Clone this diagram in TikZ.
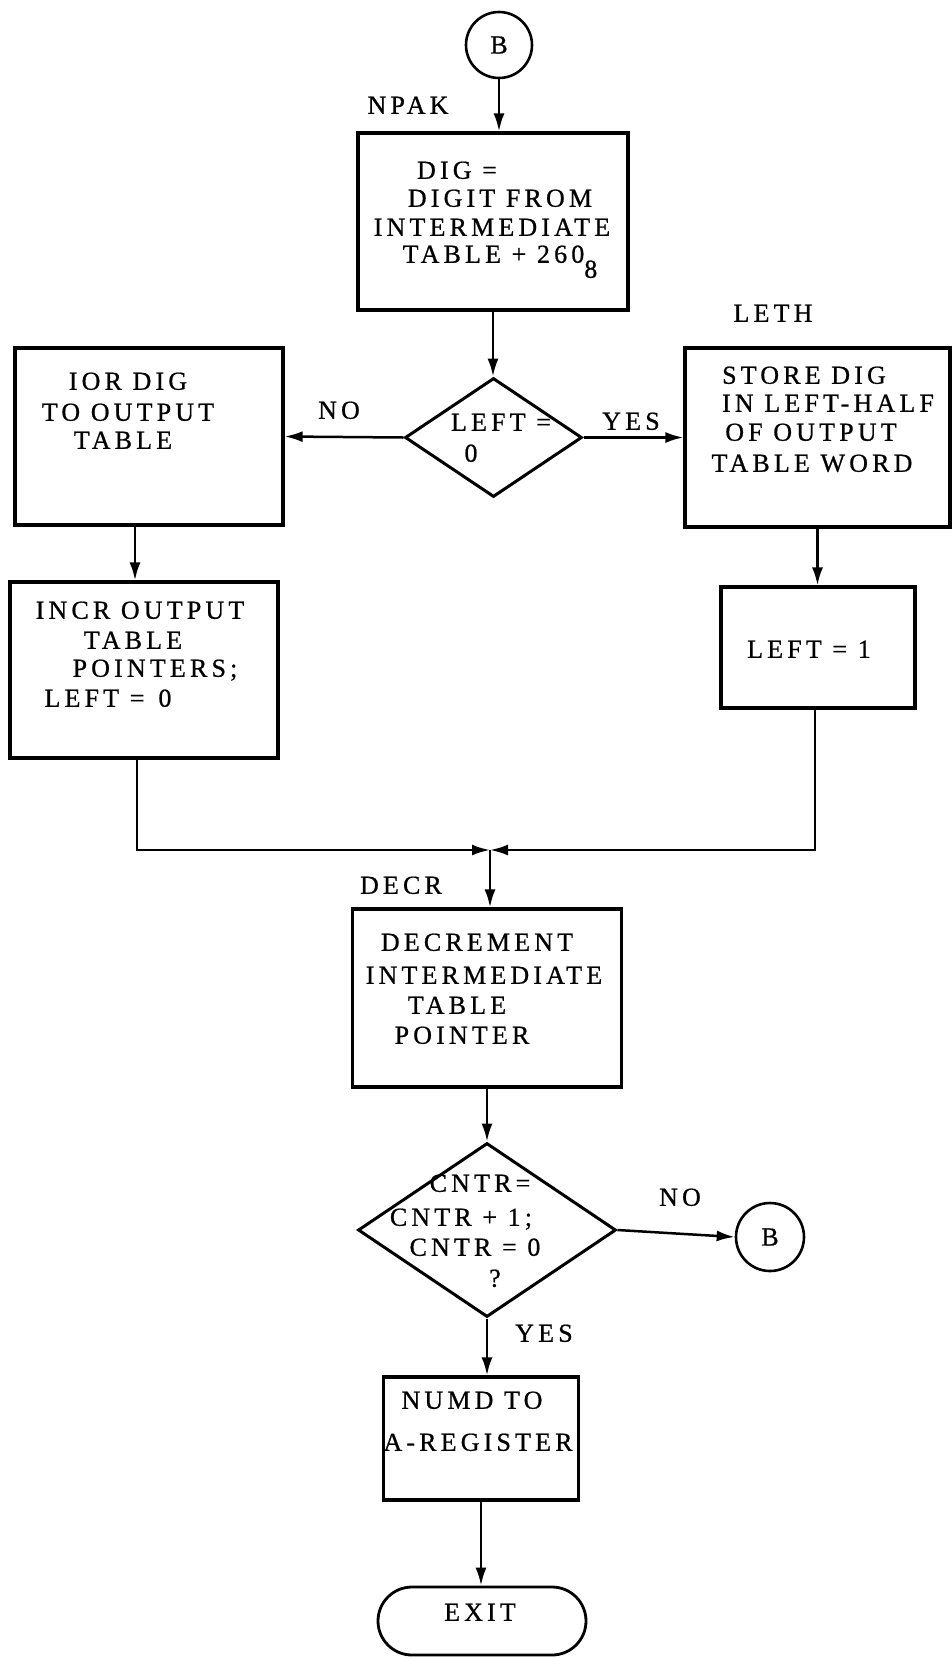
\documentclass[tikz,border=0pt]{standalone}
\usepackage{fontspec}
\setmainfont{Liberation Serif}[LetterSpace=16,FakeBold=0.7]
\usetikzlibrary{arrows.meta,shapes.geometric}
\begin{document}
\begin{tikzpicture}[x=1pt,y=-1pt]
\tikzset{
  box/.style={draw, rectangle, line width=3.2pt, inner sep=0pt},
  dia/.style={draw, diamond, line width=3pt, inner sep=0pt, aspect=1},
  term/.style={draw, rectangle, rounded corners=34pt, line width=2.8pt, inner sep=0pt},
  circ/.style={draw, circle, line width=2.6pt, inner sep=0pt, font=\fontsize{26}{30}\selectfont},
  conn/.style={line width=2.5pt, -{Latex[length=18pt,width=11pt]}},
  txt/.style={inner sep=0pt, text height=17.5pt, text depth=0pt, font=\fontsize{26}{30}\selectfont},
}
\useasboundingbox (0,0) rectangle (952,1658);

% shapes
\node[circ, minimum size=66pt] (b1) at (499,45) {B};
\node[box, minimum width=270pt, minimum height=177pt] (box1) at (493,221.5) {};
\node[dia, minimum width=177pt, minimum height=119pt] (d1) at (493.5,437.5) {};
\node[box, minimum width=268pt, minimum height=177pt] (ior) at (149,436.5) {};
\node[box, minimum width=265pt, minimum height=179pt] (store) at (817.5,437.5) {};
\node[box, minimum width=268pt, minimum height=176pt] (incr) at (144,670) {};
\node[box, minimum width=194pt, minimum height=121pt] (left1) at (818,647.5) {};
\node[box, minimum width=269pt, minimum height=178pt] (decr) at (487,998) {};
\node[dia, minimum width=258pt, minimum height=174pt] (d2) at (487,1230) {};
\node[circ, minimum size=68pt] (b2) at (770,1237) {B};
\node[box, minimum width=195pt, minimum height=123pt] (numd) at (481,1438.5) {};
\node[term, minimum width=208pt, minimum height=68pt] (exit) at (482,1621) {};
\coordinate (j) at (490,850);

% labels
\node[txt] (lnpak) at (408,105) {NPAK};
\node[txt] (lleth) at (773,313) {LETH};
\node[txt] (ldecr) at (401,885) {DECR};
\node[txt] (lno1) at (339,410) {NO};
\node[txt] (lyes1) at (631,421) {YES};
\node[txt] (lno2) at (680,1197) {NO};
\node[txt] (lyes2) at (544,1333) {YES};

% box texts
\node[txt] (t1a) at (457,170) {DIG =};
\node[txt] (t1b) at (500,198) {DIGIT FROM};
\node[txt] (t1c) at (492,227) {INTERMEDIATE};
\node[txt] (t1d) at (500,254) {TABLE + 260\raisebox{-15pt}{8}};

\node[txt] (td1a) at (501,422) {LEFT =};
\node[txt] (td1b) at (471,453) {0};

\node[txt] (t2a) at (128,381) {IOR DIG};
\node[txt] (t2b) at (128,412) {TO OUTPUT};
\node[txt] (t2c) at (123,440) {TABLE};

\node[txt] (t3a) at (804,375) {STORE DIG};
\node[txt] (t3b) at (828,403) {IN LEFT-HALF};
\node[txt] (t3c) at (811,432) {OF OUTPUT};
\node[txt] (t3d) at (812,463) {TABLE WORD};

\node[txt] (t4a) at (140,610) {INCR OUTPUT};
\node[txt] (t4b) at (133,640) {TABLE};
\node[txt] (t4c) at (155,668) {POINTERS;};
\node[txt] (t4d) at (108,698) {LEFT =\hspace{14pt}0};

\node[txt] (t5) at (809,649) {LEFT = 1};

\node[txt] (t6a) at (477,942) {DECREMENT};
\node[txt] (t6b) at (484,975) {INTERMEDIATE};
\node[txt] (t6c) at (457,1005) {TABLE};
\node[txt] (t6d) at (462,1035) {POINTER};

\node[txt] (t7a) at (480,1183) {CNTR=};
\node[txt] (t7b) at (461,1217) {CNTR + 1;};
\node[txt] (t7c) at (475,1247) {CNTR = 0};
\node[txt] (t7d) at (495,1278) {?};

\node[txt] (t8a) at (472,1400) {NUMD TO};
\node[txt] (t8b) at (478,1442) {A-REGISTER};

\node[txt] (t9) at (480,1612) {EXIT};

% connectors
\draw[conn] (b1.south) -- (b1.south |- box1.north);
\draw[conn] (box1.south) -- (box1.south |- d1.north);
\draw[conn] (d1.west) -- (ior.east);
\draw[conn] (d1.east) -- (store.west);
\draw[conn] ([xshift=-14pt]ior.south) -- ([xshift=-14pt]ior.south |- incr.north);
\draw[conn] (store.south) -- (store.south |- left1.north);
\draw[conn] ([xshift=-7pt]incr.south) |- (j);
\draw[conn] ([xshift=-3pt]left1.south) |- (j);
\draw[conn] (j) -- (j |- decr.north);
\draw[conn] (decr.south) -- (decr.south |- d2.north);
\draw[conn] (d2.east) -- (b2.west);
\draw[conn] (d2.south) -- (d2.south |- numd.north);
\draw[conn] (numd.south) -- (numd.south |- exit.north);
\end{tikzpicture}
\end{document}
